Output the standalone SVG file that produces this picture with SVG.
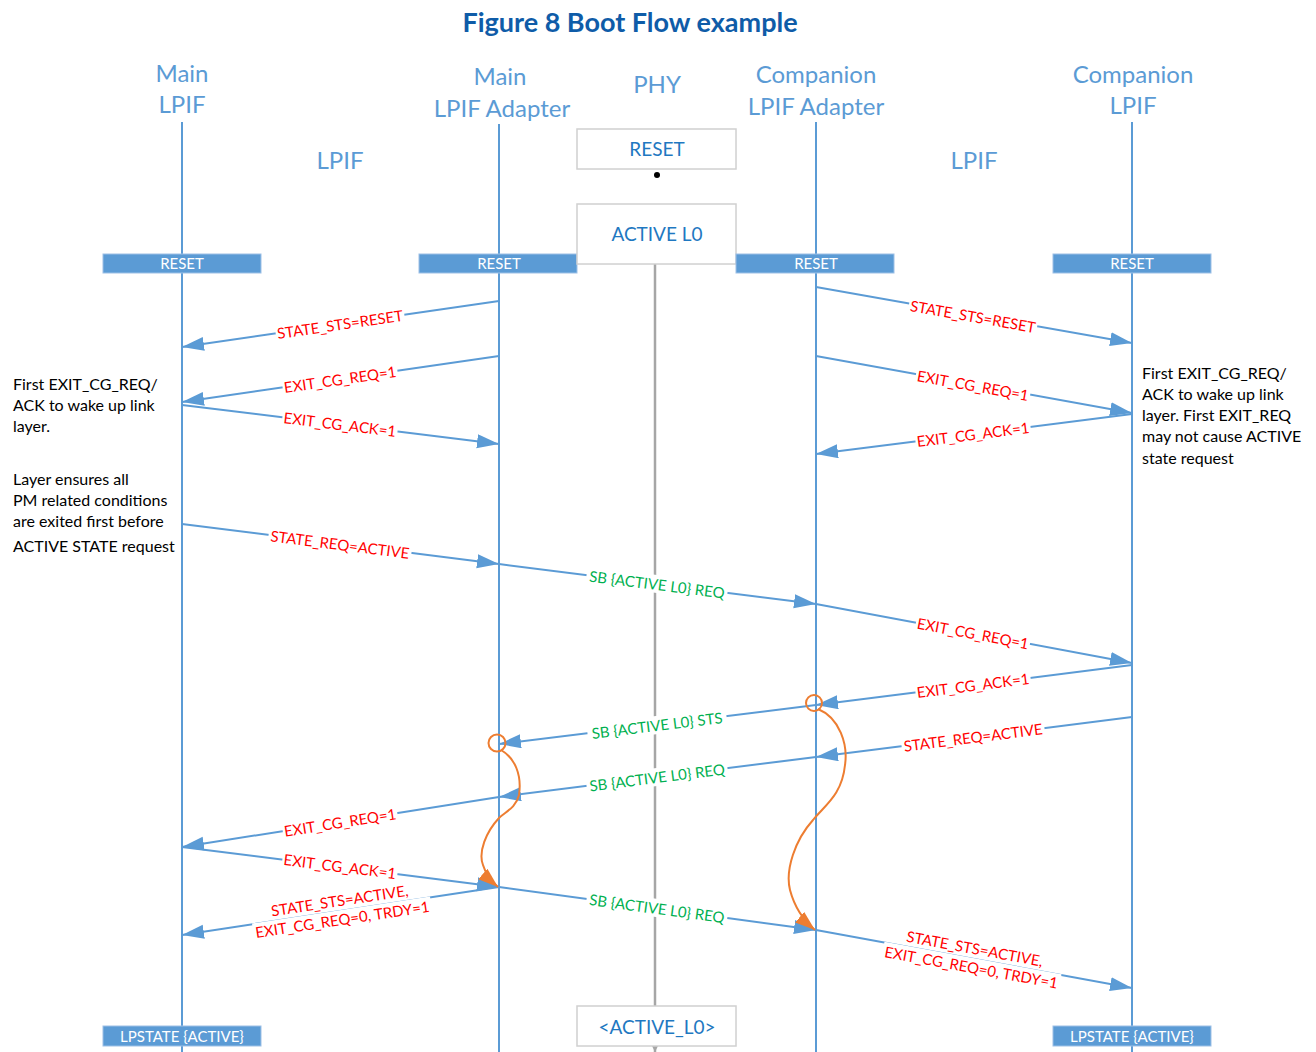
<svg xmlns="http://www.w3.org/2000/svg" width="1316" height="1052" viewBox="0 0 1316 1052">
  <style>
    text { font-family: Lato, "Noto Sans", "Liberation Sans", sans-serif; }
    .title { font-size: 27px; font-weight: bold; fill: #0F5CA8; }
    .hdr { font-size: 24px; fill: #5B9BD5; }
    .life { stroke: #5B9BD5; stroke-width: 2; fill: none; }
    .phyline { stroke: #A6A6A6; stroke-width: 2.5; fill: none; }
    .bar { fill: #5B9BD5; stroke: #9DC0E6; stroke-width: 1; }
    .bartxt { font-size: 15px; fill: #FFFFFF; }
    .box { fill: #FFFFFF; stroke: #D0D0D0; stroke-width: 1.5; }
    .boxtxt { font-size: 19px; fill: #1F78C1; }
    .msg { stroke: #5B9BD5; stroke-width: 2; fill: none; marker-end: url(#ah); }
    .gap { fill: #FFFFFF; }
    .lbl { font-size: 15px; }
    .red { fill: #FF0000; }
    .green { fill: #00B050; }
    .note { font-size: 16px; fill: #000000; }
    .flow { stroke: #ED7D31; stroke-width: 2; fill: none; }
  </style>
  <defs>
    <marker id="ah" markerUnits="userSpaceOnUse" markerWidth="24" markerHeight="16" refX="22" refY="7" orient="auto">
      <path d="M0,0 L22,7 L0,14 z" fill="#5B9BD5"/>
    </marker>
    <marker id="ahOrange" markerUnits="userSpaceOnUse" markerWidth="24" markerHeight="16" refX="20" refY="7" orient="auto">
      <path d="M0,0 L20,7 L0,14 z" fill="#ED7D31"/>
    </marker>
    <marker id="ahGray" markerUnits="userSpaceOnUse" markerWidth="16" markerHeight="12" refX="12" refY="6" orient="auto">
      <path d="M0,0 L12,6 L0,12 z" fill="#A6A6A6"/>
    </marker>
  </defs>

  <rect width="1316" height="1052" fill="#FFFFFF"/>

  <text class="title" x="630" y="32" text-anchor="middle">Figure 8 Boot Flow example</text>

  <!-- lifelines -->
  <g id="lifelines">
    <line class="life" x1="182" y1="122" x2="182" y2="1052"/>
    <line class="life" x1="499" y1="124" x2="499" y2="1052"/>
    <line class="life" x1="816" y1="122" x2="816" y2="1052"/>
    <line class="life" x1="1132" y1="122" x2="1132" y2="1052"/>
    <line class="phyline" x1="655" y1="264" x2="655" y2="1006"/>
    <line class="phyline" x1="655" y1="1046" x2="655" y2="1052" marker-end="url(#ahGray)"/>
  </g>

  <!-- participants -->
  <g id="main-lpif">
    <text class="hdr" x="182" y="82" text-anchor="middle">Main</text>
    <text class="hdr" x="182" y="113" text-anchor="middle">LPIF</text>
    <rect class="bar" x="103" y="254" width="158" height="19"/>
    <text class="bartxt" x="182" y="269" text-anchor="middle">RESET</text>
    <rect class="bar" x="103" y="1026" width="158" height="20"/>
    <text class="bartxt" x="182" y="1042" text-anchor="middle">LPSTATE {ACTIVE}</text>
  </g>
  <g id="main-adapter">
    <text class="hdr" x="500" y="85" text-anchor="middle">Main</text>
    <text class="hdr" x="502" y="117" text-anchor="middle">LPIF Adapter</text>
    <rect class="bar" x="419" y="254" width="158" height="19"/>
    <text class="bartxt" x="499" y="269" text-anchor="middle">RESET</text>
  </g>
  <g id="phy">
    <text class="hdr" x="657" y="93" text-anchor="middle">PHY</text>
    <rect class="box" x="577" y="129" width="159" height="40"/>
    <text class="boxtxt" x="657" y="156" text-anchor="middle">RESET</text>
    <circle cx="657" cy="175" r="3" fill="#000000"/>
    <rect class="box" x="577" y="204" width="159" height="60"/>
    <text class="boxtxt" x="657" y="241" text-anchor="middle">ACTIVE L0</text>
    <rect class="box" x="577" y="1006" width="159" height="40"/>
    <text class="boxtxt" x="657" y="1034" text-anchor="middle">&lt;ACTIVE_L0&gt;</text>
  </g>
  <g id="companion-adapter">
    <text class="hdr" x="816" y="83" text-anchor="middle">Companion</text>
    <text class="hdr" x="816" y="115" text-anchor="middle">LPIF Adapter</text>
    <rect class="bar" x="736" y="254" width="158" height="19"/>
    <text class="bartxt" x="816" y="269" text-anchor="middle">RESET</text>
  </g>
  <g id="companion-lpif">
    <text class="hdr" x="1133" y="83" text-anchor="middle">Companion</text>
    <text class="hdr" x="1133" y="114" text-anchor="middle">LPIF</text>
    <rect class="bar" x="1053" y="254" width="158" height="19"/>
    <text class="bartxt" x="1132" y="269" text-anchor="middle">RESET</text>
    <rect class="bar" x="1053" y="1026" width="158" height="20"/>
    <text class="bartxt" x="1132" y="1042" text-anchor="middle">LPSTATE {ACTIVE}</text>
  </g>

  <!-- interface labels -->
  <g id="interfaces">
    <text class="hdr" x="340" y="169" text-anchor="middle">LPIF</text>
    <text class="hdr" x="974" y="169" text-anchor="middle">LPIF</text>
  </g>

  <!-- notes -->
  <g id="note-left-1">
    <text class="note" x="13" y="390">First EXIT_CG_REQ/</text>
    <text class="note" x="13" y="411">ACK to wake up link</text>
    <text class="note" x="13" y="432">layer.</text>
  </g>
  <g id="note-left-2">
    <text class="note" x="13" y="485">Layer ensures all</text>
    <text class="note" x="13" y="506">PM related conditions</text>
    <text class="note" x="13" y="527">are exited first before</text>
    <text class="note" x="13" y="552">ACTIVE STATE request</text>
  </g>
  <g id="note-right">
    <text class="note" x="1142" y="379">First EXIT_CG_REQ/</text>
    <text class="note" x="1142" y="400">ACK to wake up link</text>
    <text class="note" x="1142" y="421">layer. First EXIT_REQ</text>
    <text class="note" x="1142" y="442">may not cause ACTIVE</text>
    <text class="note" x="1142" y="464">state request</text>
  </g>

  <!-- messages -->
  <g id="connectors">
    <line class="msg" x1="499" y1="301" x2="182" y2="347"/>
    <line class="msg" x1="816" y1="287" x2="1132" y2="343"/>
    <line class="msg" x1="499" y1="356" x2="182" y2="402"/>
    <line class="msg" x1="182" y1="405" x2="499" y2="444"/>
    <line class="msg" x1="816" y1="356" x2="1132" y2="413"/>
    <line class="msg" x1="1132" y1="414" x2="816" y2="454"/>
    <line class="msg" x1="182" y1="524" x2="499" y2="564"/>
    <line class="msg" x1="499" y1="564" x2="816" y2="604"/>
    <line class="msg" x1="816" y1="604" x2="1132" y2="663"/>
    <line class="msg" x1="1132" y1="665" x2="816" y2="705"/>
    <line class="msg" x1="816" y1="705" x2="499" y2="744"/>
    <line class="msg" x1="1132" y1="717" x2="816" y2="757"/>
    <line class="msg" x1="816" y1="757" x2="499" y2="797"/>
    <line class="msg" x1="499" y1="797" x2="182" y2="847"/>
    <line class="msg" x1="182" y1="847" x2="499" y2="887"/>
    <line class="msg" x1="499" y1="887" x2="182" y2="935"/>
    <line class="msg" x1="499" y1="887" x2="816" y2="930"/>
    <line class="msg" x1="816" y1="930" x2="1132" y2="988"/>

    <!-- message labels, each on a white plate that breaks its line -->
    <g transform="translate(340,324) rotate(-8.3)">
      <rect class="gap" x="-65" y="-9" width="130" height="18"/>
      <text class="lbl red" text-anchor="middle" dominant-baseline="central">STATE_STS=RESET</text>
    </g>
    <g transform="translate(973,316) rotate(10)">
      <rect class="gap" x="-65" y="-9" width="130" height="18"/>
      <text class="lbl red" text-anchor="middle" dominant-baseline="central">STATE_STS=RESET</text>
    </g>
    <g transform="translate(340,379) rotate(-8.3)">
      <rect class="gap" x="-58" y="-9" width="116" height="18"/>
      <text class="lbl red" text-anchor="middle" dominant-baseline="central">EXIT_CG_REQ=1</text>
    </g>
    <g transform="translate(340,424) rotate(7)">
      <rect class="gap" x="-58" y="-9" width="116" height="18"/>
      <text class="lbl red" text-anchor="middle" dominant-baseline="central">EXIT_CG_ACK=1</text>
    </g>
    <g transform="translate(973,385) rotate(10.2)">
      <rect class="gap" x="-58" y="-9" width="116" height="18"/>
      <text class="lbl red" text-anchor="middle" dominant-baseline="central">EXIT_CG_REQ=1</text>
    </g>
    <g transform="translate(973,434) rotate(-7.2)">
      <rect class="gap" x="-58" y="-9" width="116" height="18"/>
      <text class="lbl red" text-anchor="middle" dominant-baseline="central">EXIT_CG_ACK=1</text>
    </g>
    <g transform="translate(340,544) rotate(7.2)">
      <rect class="gap" x="-72" y="-9" width="144" height="18"/>
      <text class="lbl red" text-anchor="middle" dominant-baseline="central">STATE_REQ=ACTIVE</text>
    </g>
    <g transform="translate(657,584) rotate(7.2)">
      <rect class="gap" x="-71" y="-9" width="142" height="18"/>
      <text class="lbl green" text-anchor="middle" dominant-baseline="central">SB {ACTIVE L0} REQ</text>
    </g>
    <g transform="translate(973,633) rotate(10.6)">
      <rect class="gap" x="-58" y="-9" width="116" height="18"/>
      <text class="lbl red" text-anchor="middle" dominant-baseline="central">EXIT_CG_REQ=1</text>
    </g>
    <g transform="translate(973,685) rotate(-7.2)">
      <rect class="gap" x="-58" y="-9" width="116" height="18"/>
      <text class="lbl red" text-anchor="middle" dominant-baseline="central">EXIT_CG_ACK=1</text>
    </g>
    <g transform="translate(657,725) rotate(-7)">
      <rect class="gap" x="-70" y="-9" width="140" height="18"/>
      <text class="lbl green" text-anchor="middle" dominant-baseline="central">SB {ACTIVE L0} STS</text>
    </g>
    <g transform="translate(973,737) rotate(-7.2)">
      <rect class="gap" x="-72" y="-9" width="144" height="18"/>
      <text class="lbl red" text-anchor="middle" dominant-baseline="central">STATE_REQ=ACTIVE</text>
    </g>
    <g transform="translate(657,777) rotate(-7.2)">
      <rect class="gap" x="-71" y="-9" width="142" height="18"/>
      <text class="lbl green" text-anchor="middle" dominant-baseline="central">SB {ACTIVE L0} REQ</text>
    </g>
    <g transform="translate(340,822) rotate(-9)">
      <rect class="gap" x="-58" y="-9" width="116" height="18"/>
      <text class="lbl red" text-anchor="middle" dominant-baseline="central">EXIT_CG_REQ=1</text>
    </g>
    <g transform="translate(340,866) rotate(7.2)">
      <rect class="gap" x="-58" y="-9" width="116" height="18"/>
      <text class="lbl red" text-anchor="middle" dominant-baseline="central">EXIT_CG_ACK=1</text>
    </g>
    <g transform="translate(341,910) rotate(-8.6)">
      <rect class="gap" x="-70" y="-19" width="140" height="18"/>
      <rect class="gap" x="-90" y="0" width="180" height="18"/>
      <text class="lbl red" text-anchor="middle" dominant-baseline="central" x="0" y="-10">STATE_STS=ACTIVE,</text>
      <text class="lbl red" text-anchor="middle" dominant-baseline="central" x="0" y="9">EXIT_CG_REQ=0, TRDY=1</text>
    </g>
    <g transform="translate(657,908) rotate(7.7)">
      <rect class="gap" x="-71" y="-9" width="142" height="18"/>
      <text class="lbl green" text-anchor="middle" dominant-baseline="central">SB {ACTIVE L0} REQ</text>
    </g>
    <g transform="translate(973,958) rotate(10.4)">
      <rect class="gap" x="-70" y="-19" width="140" height="18"/>
      <rect class="gap" x="-90" y="0" width="180" height="18"/>
      <text class="lbl red" text-anchor="middle" dominant-baseline="central" x="0" y="-10">STATE_STS=ACTIVE,</text>
      <text class="lbl red" text-anchor="middle" dominant-baseline="central" x="0" y="9">EXIT_CG_REQ=0, TRDY=1</text>
    </g>

    <!-- sideband hand-off flows -->
    <circle class="flow" cx="814" cy="703" r="8"/>
    <path class="flow" marker-end="url(#ahOrange)" d="M818,709 C840,718 848,745 845,765 C842,795 825,805 813,820 C795,840 785,870 790,890 C794,905 803,920 815,930"/>
    <circle class="flow" cx="497" cy="743" r="8.5"/>
    <path class="flow" marker-end="url(#ahOrange)" d="M501,750 C515,758 522,775 519,795 C516,808 505,812 499,818 C486,832 478,852 483,865 C486,875 491,881 498,887"/>
  </g>
</svg>
